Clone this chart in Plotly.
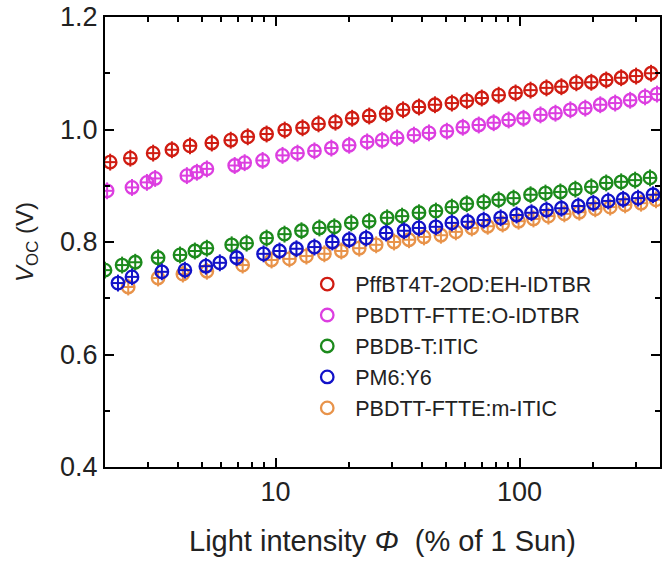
import plotly.graph_objects as go

# ---- data (Light intensity in % of 1 Sun, Voc in V) ----
names = ["PffBT4T-2OD:EH-IDTBR", "PBDTT-FTTE:O-IDTBR", "PBDB-T:ITIC", "PM6:Y6", "PBDTT-FTTE:m-ITIC"]
colors = ["#d01c12", "#dc3ee0", "#1c8a1c", "#1212c8", "#e8934a"]

x_red = [2.10, 2.54, 3.15, 3.76, 4.46, 5.48, 6.55, 7.69, 9.19, 10.9, 12.9, 15.0, 17.6, 20.6,
         24.2, 28.4, 33.3, 38.7, 45.0, 52.8, 60.8, 70.0, 82.1, 96.3, 110.9, 128.9, 148.4,
         170.9, 196.8, 226.5, 260.8, 300.3, 345.8]
v_red = [0.942, 0.949, 0.958, 0.964, 0.971, 0.976, 0.981, 0.987, 0.992, 0.999, 1.003, 1.010,
         1.013, 1.020, 1.024, 1.028, 1.035, 1.040, 1.044, 1.047, 1.051, 1.056, 1.061, 1.065,
         1.070, 1.074, 1.076, 1.083, 1.084, 1.088, 1.092, 1.095, 1.100]

x_mag = [2.04, 2.58, 2.97, 3.21, 4.33, 4.76, 5.23, 6.80, 7.47, 8.85, 10.68, 12.30, 14.43,
         16.93, 20.03, 23.73, 27.33, 31.48, 36.9, 42.52, 50.35, 58.53, 68.04, 78.33, 90.19,
         103.8, 121.8, 140.3, 161.5, 185.9, 214.1, 246.5, 283.9, 326.8, 365.9]
v_mag = [0.891, 0.897, 0.906, 0.913, 0.918, 0.924, 0.930, 0.936, 0.941, 0.945, 0.954, 0.958,
         0.962, 0.967, 0.972, 0.978, 0.981, 0.985, 0.990, 0.994, 0.997, 1.004, 1.008, 1.012,
         1.017, 1.020, 1.026, 1.029, 1.035, 1.038, 1.044, 1.047, 1.052, 1.058, 1.063]

x_grn = [2.00, 2.35, 2.66, 3.30, 4.06, 4.67, 5.23, 6.61, 7.61, 9.19, 10.88, 12.77, 15.12,
         17.41, 20.43, 24.19, 28.65, 33.00, 38.70, 45.41, 52.78, 60.77, 71.30, 82.1, 94.5,
         110.9, 127.7, 147.0, 169.3, 196.8, 226.5, 260.8, 297.5, 342.5]
v_grn = [0.750, 0.759, 0.764, 0.772, 0.777, 0.784, 0.789, 0.795, 0.798, 0.807, 0.814, 0.820,
         0.825, 0.827, 0.834, 0.837, 0.843, 0.846, 0.852, 0.855, 0.862, 0.868, 0.871, 0.875,
         0.878, 0.884, 0.887, 0.889, 0.894, 0.898, 0.905, 0.907, 0.910, 0.914]

x_blu = [2.26, 2.58, 3.42, 4.25, 5.18, 5.91, 6.93, 8.93, 10.38, 12.18, 14.43, 17.09, 20.04,
         23.51, 28.39, 33.62, 38.70, 45.41, 52.78, 61.34, 71.30, 83.65, 97.2, 111.9, 128.9,
         148.4, 174.1, 200.5, 230.8, 265.7, 305.9, 352.3]
v_blu = [0.727, 0.738, 0.747, 0.750, 0.757, 0.763, 0.772, 0.779, 0.784, 0.788, 0.791, 0.800,
         0.804, 0.807, 0.816, 0.820, 0.825, 0.827, 0.834, 0.836, 0.839, 0.843, 0.848, 0.852,
         0.857, 0.860, 0.864, 0.869, 0.873, 0.876, 0.878, 0.884]

x_org = [2.49, 3.30, 4.17, 5.23, 7.33, 9.63, 11.40, 13.38, 15.85, 18.60, 22.03, 25.84, 30.59,
         35.24, 40.57, 47.61, 54.81, 63.71, 74.03, 85.24, 99.06, 114.0, 131.3, 152.6, 175.8,
         204.3, 235.2, 270.8, 314.7, 362.4]
v_org = [0.720, 0.736, 0.743, 0.748, 0.759, 0.768, 0.770, 0.775, 0.779, 0.784, 0.789, 0.795,
         0.800, 0.804, 0.809, 0.812, 0.818, 0.825, 0.828, 0.832, 0.837, 0.841, 0.846, 0.850,
         0.853, 0.859, 0.862, 0.866, 0.869, 0.875]

xs = [x_red, x_mag, x_grn, x_blu, x_org]
vs = [v_red, v_mag, v_grn, v_blu, v_org]

x_major = [10, 100]
x_minor = [3, 4, 5, 6, 7, 8, 9, 20, 30, 40, 50, 60, 70, 80, 90, 200, 300]
y_major = [0.4, 0.6, 0.8, 1.0, 1.2]
y_minor = [0.5, 0.7, 0.9, 1.1]

FONT = "Arial, Liberation Sans, sans-serif"

fig = go.Figure()
# draw orange first so it sits beneath blue; keep legend order via legendrank
draw_order = [4, 0, 1, 2, 3]
for i in draw_order:
    fig.add_trace(go.Scatter(
        x=xs[i], y=vs[i], mode="markers", name=names[i], legendrank=i + 1,
        marker=dict(symbol="circle-open", size=12.5, color=colors[i],
                    line=dict(width=2.3, color=colors[i])),
        error_y=dict(type="constant", value=0.015, thickness=2, width=0, color=colors[i]),
        error_x=dict(type="percent", value=6, thickness=2, width=0, color=colors[i]),
    ))

fig.update_layout(
    width=662, height=567,
    margin=dict(l=105, r=0, t=17, b=100),
    paper_bgcolor="white", plot_bgcolor="white",
    font=dict(family=FONT, color="#222222", size=26),
    showlegend=True,
    legend=dict(x=0.35, y=0.452, xanchor="left", yanchor="top",
                font=dict(family=FONT, size=21.5, color="#222222"),
                bgcolor="rgba(0,0,0,0)", itemwidth=46, tracegroupgap=0),
)
fig.update_xaxes(
    type="log", range=[0.301, 2.5755],
    showline=True, linecolor="black", linewidth=2, mirror="ticks",
    ticks="inside", ticklen=9, tickwidth=2, tickcolor="black",
    tickvals=x_major, ticktext=[str(v) for v in x_major],
    tickfont=dict(size=27, family=FONT, color="#222222"),
    minor=dict(tickvals=x_minor, ticks="inside", ticklen=5, tickwidth=2, tickcolor="black", showgrid=False),
    showgrid=False, zeroline=False,
    title=dict(text="Light intensity <i>Φ</i>  (% of 1 Sun)", font=dict(size=29, family=FONT, color="#222222"), standoff=24),
)
fig.update_yaxes(
    range=[0.4, 1.2],
    showline=True, linecolor="black", linewidth=2, mirror="ticks",
    ticks="inside", ticklen=9, tickwidth=2, tickcolor="black",
    tickvals=y_major, ticktext=["%.1f" % v for v in y_major],
    tickfont=dict(size=27, family=FONT, color="#222222"),
    minor=dict(tickvals=y_minor, ticks="inside", ticklen=5, tickwidth=2, tickcolor="black", showgrid=False),
    showgrid=False, zeroline=False,
    title=dict(text="<i>V</i><sub>OC</sub> (V)", font=dict(size=24, family=FONT, color="#222222"), standoff=20),
)

fig.write_html("out.html")
